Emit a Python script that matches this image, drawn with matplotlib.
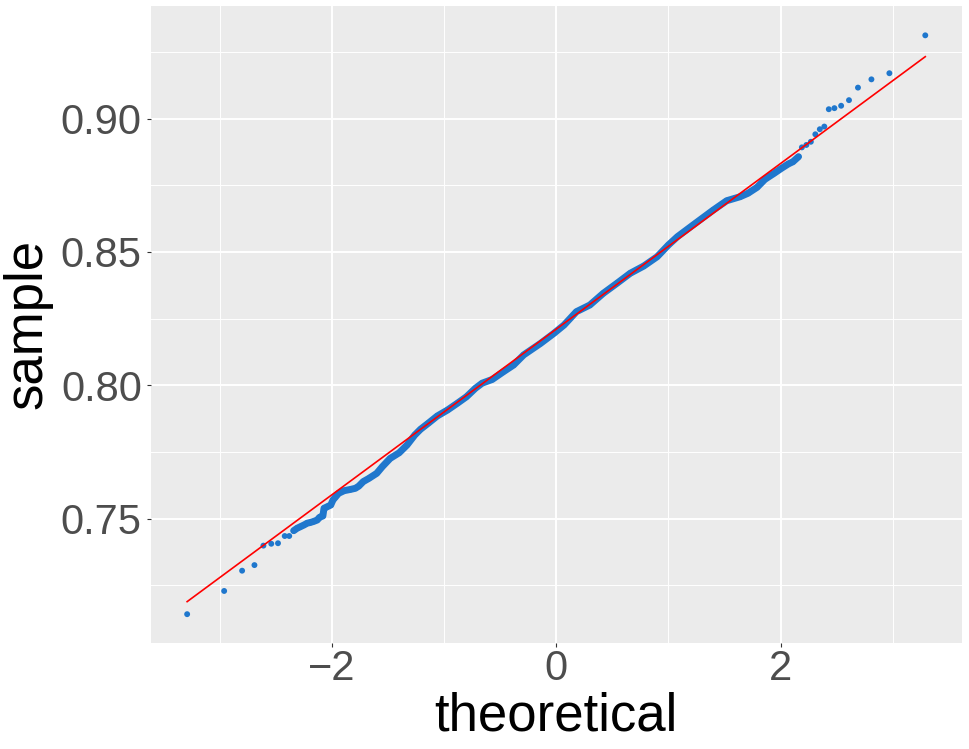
import matplotlib
matplotlib.use("Agg")
import matplotlib.pyplot as plt
import matplotlib.ticker as mticker

plt.rcParams['font.family'] = ['Liberation Sans', 'DejaVu Sans']

# isolated points in the lower tail (theoretical quantile, sample value)
left_tail_x = [-3.29, -2.96, -2.80, -2.69, -2.61, -2.54, -2.48, -2.42, -2.38]
left_tail_y = [0.7142, 0.7229, 0.7305, 0.7326, 0.7399, 0.7406, 0.7408, 0.7435, 0.7435]

# dense middle part of the sample, read along the band
band_x = [-2.34, -2.31, -2.28, -2.25, -2.22, -2.19, -2.16, -2.13, -2.11, -2.08,
          -2.07, -2.04, -2.01, -1.99, -1.97, -1.94, -1.89, -1.83, -1.79, -1.76,
          -1.72, -1.67, -1.60, -1.55, -1.48, -1.40, -1.33, -1.26, -1.21, -1.14,
          -1.06, -0.97, -0.88, -0.80, -0.72, -0.66, -0.57, -0.47, -0.38, -0.29,
          -0.14, -0.02, 0.07, 0.18, 0.30, 0.42, 0.54, 0.66, 0.78, 0.90,
          1.00, 1.08, 1.22, 1.40, 1.52, 1.64, 1.71, 1.79, 1.86, 1.94,
          2.01, 2.07, 2.11, 2.16]
band_y = [0.7455, 0.7464, 0.7470, 0.7476, 0.7483, 0.7486, 0.7490, 0.7495, 0.7505, 0.7510,
          0.7539, 0.7545, 0.7551, 0.7570, 0.7580, 0.7595, 0.7605, 0.7610, 0.7614, 0.7622,
          0.7639, 0.7651, 0.7670, 0.7695, 0.7726, 0.7747, 0.7776, 0.7814, 0.7835, 0.7858,
          0.7885, 0.7907, 0.7933, 0.7957, 0.7989, 0.8008, 0.8022, 0.8051, 0.8076, 0.8114,
          0.8157, 0.8195, 0.8226, 0.8276, 0.8301, 0.8345, 0.8382, 0.8420, 0.8447, 0.8482,
          0.8526, 0.8557, 0.8601, 0.8657, 0.8692, 0.8707, 0.8720, 0.8742, 0.8772, 0.8794,
          0.8814, 0.8830, 0.8838, 0.8857]

# isolated points in the upper tail
right_tail_x = [2.19, 2.23, 2.27, 2.31, 2.35, 2.39, 2.43, 2.48, 2.54, 2.61, 2.69, 2.81, 2.97, 3.29]
right_tail_y = [0.8892, 0.8901, 0.8913, 0.8941, 0.8960, 0.8970, 0.9035, 0.9039, 0.9048,
                0.9069, 0.9116, 0.9147, 0.9170, 0.9312]

# reference line (qqline) end points
line_x = [-3.29, 3.29]
line_y = [0.7189, 0.9232]

x_ticks = [-2, 0, 2]
x_minor = [-3, -1, 1, 3]
y_ticks = [0.75, 0.80, 0.85, 0.90]
y_minor = [0.725, 0.775, 0.825, 0.875, 0.925]

point_color = '#1F77CD'

fig = plt.figure(figsize=(9.69, 7.49), dpi=100)
ax = fig.add_axes([0.1555, 0.1419, 0.837, 0.8501])
ax.set_facecolor('#EBEBEB')

ax.plot(band_x, band_y, color=point_color, lw=5.0, solid_capstyle='round',
        solid_joinstyle='round', zorder=3)
all_x = left_tail_x + band_x + right_tail_x
all_y = left_tail_y + band_y + right_tail_y
ax.scatter(all_x, all_y, s=18, color=point_color, edgecolors='none', zorder=3)
ax.plot(line_x, line_y, color='red', lw=1.2, zorder=4)

ax.set_xlim(-3.615, 3.615)
ax.set_ylim(0.7035, 0.9422)

ax.xaxis.set_major_locator(mticker.FixedLocator(x_ticks))
ax.xaxis.set_minor_locator(mticker.FixedLocator(x_minor))
ax.yaxis.set_major_locator(mticker.FixedLocator(y_ticks))
ax.yaxis.set_minor_locator(mticker.FixedLocator(y_minor))
ax.yaxis.set_major_formatter(mticker.FormatStrFormatter('%.2f'))

ax.set_axisbelow(True)
ax.grid(which='major', color='white', lw=1.4)
ax.grid(which='minor', color='white', lw=0.7)
for s in ax.spines.values():
    s.set_visible(False)

ax.tick_params(which='major', length=2.9, width=0.8, color='#333333',
               labelsize=30, labelcolor='#4D4D4D')
ax.tick_params(axis='x', which='major', pad=1.5)
ax.tick_params(axis='y', which='major', pad=3.5)
ax.tick_params(which='minor', length=0)

ax.set_xlabel('theoretical', fontsize=38, color='black', labelpad=2)
ax.set_ylabel('sample', fontsize=38, color='black', labelpad=6)

fig.savefig('out.png', dpi=100)
